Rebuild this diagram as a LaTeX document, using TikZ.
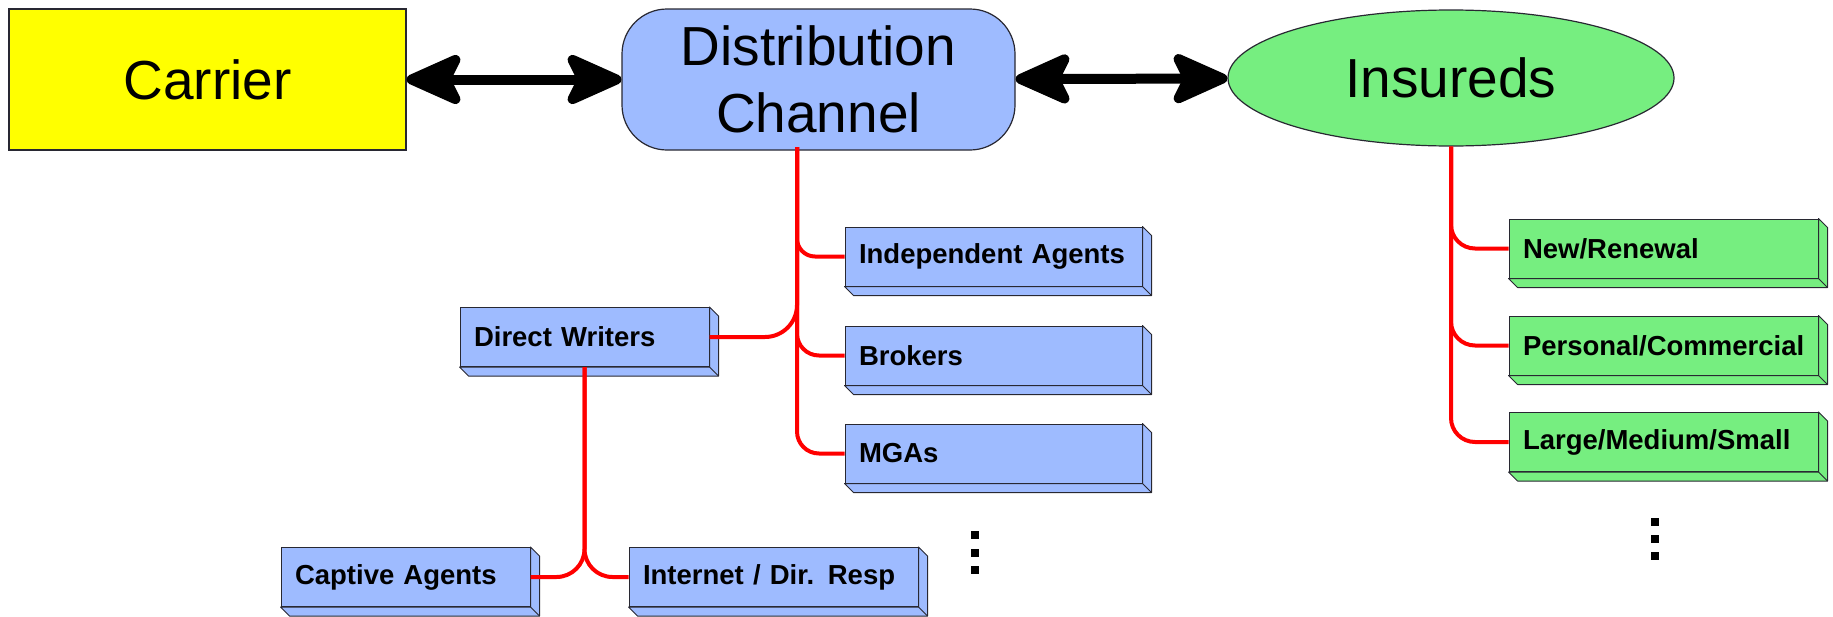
\documentclass[tikz,border=0pt]{standalone}
\usepackage{fontspec}
\setmainfont{Liberation Sans}
\usetikzlibrary{shapes.geometric,arrows.meta}

\definecolor{dcblue}{RGB}{158,187,255}
\definecolor{insgreen}{RGB}{118,238,128}
\definecolor{caryellow}{RGB}{255,255,0}
\definecolor{linkred}{RGB}{255,0,0}
\definecolor{rim}{RGB}{40,40,50}

\newcommand{\bigfont}{\fontsize{55}{67}\selectfont}
\newcommand{\boxfont}{\fontsize{27.5}{33}\selectfont\bfseries}

\begin{document}
\begin{tikzpicture}[x=1pt,y=-1pt,
    link/.style={line width=10pt,
      {Stealth[length=66pt,width=58pt,inset=14pt,round]}-{Stealth[length=66pt,width=58pt,inset=14pt,round]}},
    branch/.style={draw=linkred, line width=4pt, rounded corners=#1},
    branch/.default=18pt,
    blk/.style={draw=rim, line width=1pt, minimum height=59pt, inner xsep=14pt,
      align=left, font=\boxfont, text width=#1},
    bluebox/.style={blk=#1, fill=dcblue},
    greenbox/.style={blk=#1, fill=insgreen}]

  \useasboundingbox (0,0) rectangle (1833,616);

  \begin{scope}[every node/.style={draw=rim, line width=1.2pt, font=\bigfont,
      align=center, minimum height=141pt}]
    \node[fill=caryellow, minimum width=397pt] (car) at (207.5,79.5) {Carrier};
    \node[fill=dcblue, minimum width=393pt, rounded corners=45pt] (dc) at (818.5,79.5) {Distribution\\Channel};
    \node[fill=insgreen, ellipse, minimum width=446pt, minimum height=136pt] (ins) at (1451,78) {Insureds};
  \end{scope}

  \draw[link] (car) -- (dc);
  \draw[link] (dc) -- (ins);

  % channel side
  \node[bluebox=269pt] (ia)  at (993.5,256.5) {Independent Agents};
  \node[bluebox=269pt] (br)  at (993.5,355.5) {Brokers};
  \node[bluebox=269pt] (mga) at (993.5,453.5) {MGAs};
  \node[bluebox=221pt] (dw)  at (584.5,337)   {Direct Writers};
  \node[bluebox=221pt] (cap) at (405.5,577)   {Captive Agents};
  \node[bluebox=261pt] (web) at (773.5,577)   {Internet / Dir. Resp};

  % insureds side
  \node[greenbox=281pt] (nr)  at (1663.5,248.5) {New/Renewal};
  \node[greenbox=281pt] (pc)  at (1663.5,345.5) {Personal/Commercial};
  \node[greenbox=281pt] (lms) at (1663.5,442)   {Large/Medium/Small};

  % depth faces
  \foreach \n/\c in {ia/dcblue,br/dcblue,mga/dcblue,dw/dcblue,cap/dcblue,web/dcblue,
                     nr/insgreen,pc/insgreen,lms/insgreen}{
    \filldraw[fill=\c, draw=rim, line width=1pt, line join=round]
      (\n.south west) -- ++(9,9) -| ([shift={(9,9)}]\n.north east)
      -- (\n.north east) |- cycle;
    \draw[rim, line width=1pt] (\n.south east) -- ++(9,9);
  }

  \coordinate (dcfoot) at (797,147);
  \draw[branch] (dcfoot) |- (ia.west);
  \draw[branch=22pt] (dcfoot) |- (br.west);
  \draw[branch=22pt] (dcfoot) |- (mga.west);
  \draw[branch=32pt] (dcfoot) |- (dw.east);
  \draw[branch=28pt] (dw.south) |- (cap.east);
  \draw[branch=28pt] (dw.south) |- (web.west);

  \draw[branch=24pt] (ins.south) |- (nr.west);
  \draw[branch=24pt] (ins.south) |- (pc.west);
  \draw[branch=24pt] (ins.south) |- (lms.west);

  % more to come
  \foreach \y in {531,549,566} \fill (971,\y) rectangle ++(8,8);
  \foreach \y in {518,535,552} \fill (1651,\y) rectangle ++(8,8);

\end{tikzpicture}
\end{document}
